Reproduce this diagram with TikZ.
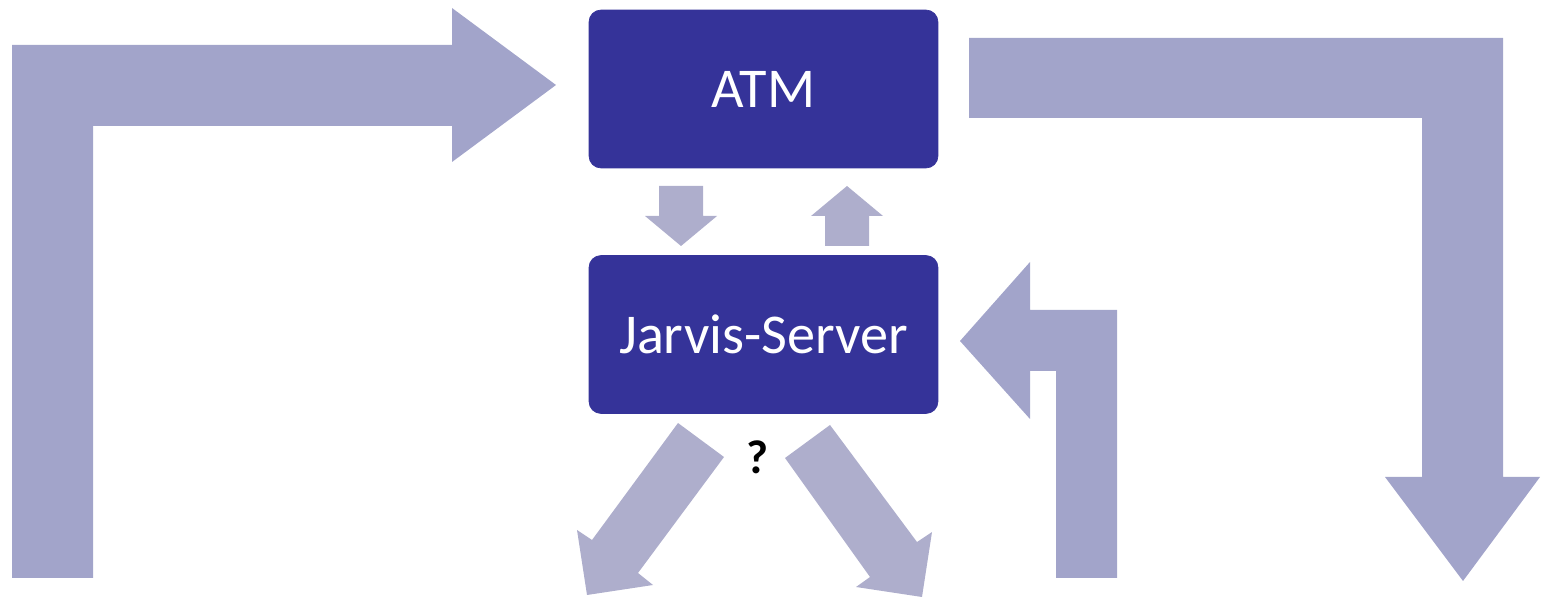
\documentclass[tikz,border=0pt]{standalone}
\usepackage{fontspec}
\setmainfont{Carlito}
\definecolor{boxblue}{RGB}{53,51,153}
\definecolor{flowbig}{RGB}{162,164,202}
\definecolor{flowsmall}{RGB}{174,174,204}
\begin{document}
\begin{tikzpicture}[x=0.02cm,y=-0.02cm,
  unitbox/.style={fill=boxblue,draw=boxblue,rounded corners=0.24cm,
    minimum width=6.98cm,minimum height=3.16cm,inner sep=0pt,
    text=white,font=\fontsize{32}{38}\selectfont},
  bigflow/.style={fill=flowbig,draw=none},
  smallflow/.style={fill=flowsmall,draw=none}]
\useasboundingbox (0,0) rectangle (1542,597);

% the two units
\node[unitbox] (atm) at (763.5,89) {ATM};
\node[unitbox] (jarvis) at (763.5,334.5) {Jarvis-Server};

% incoming bent arrow on the left, pointing into the ATM
\fill[bigflow] (12,578) -- (12,45) -- (452,45) -- (452,8) -- (556,85)
  -- (452,162) -- (452,126) -- (93,126) -- (93,578) -- cycle;

% outgoing bent arrow on the right, leaving the ATM
\fill[bigflow] (969,38) -- (1503,38) -- (1503,477) -- (1540,477) -- (1463,581)
  -- (1385,477) -- (1422,477) -- (1422,118) -- (969,118) -- cycle;

% bent arrow coming back into the server
\fill[bigflow] (1117,578) -- (1117,310) -- (1030,310) -- (1030,262) -- (960,341)
  -- (1030,419) -- (1030,371) -- (1056,371) -- (1056,578) -- cycle;

% request / response between ATM and server
\fill[smallflow] (659,186) -- (703,186) -- (703,216) -- (717,216) -- (681,246)
  -- (645,216) -- (659,216) -- cycle;
\fill[smallflow] (825,246) -- (869,246) -- (869,216) -- (883,216) -- (847,186)
  -- (811,216) -- (825,216) -- cycle;

% diverging arrows below the server
\fill[smallflow] (678,423) -- (724,457) -- (638,573) -- (653,585) -- (587,595)
  -- (577,530) -- (592,540) -- cycle;
\fill[smallflow] (830,425) -- (785,458) -- (870,577) -- (856,587) -- (922,597)
  -- (932,532) -- (917,542) -- cycle;

\node[font=\bfseries\fontsize{27}{32}\selectfont,inner sep=0pt] (unknown) at (757,457) {?};
\end{tikzpicture}
\end{document}
